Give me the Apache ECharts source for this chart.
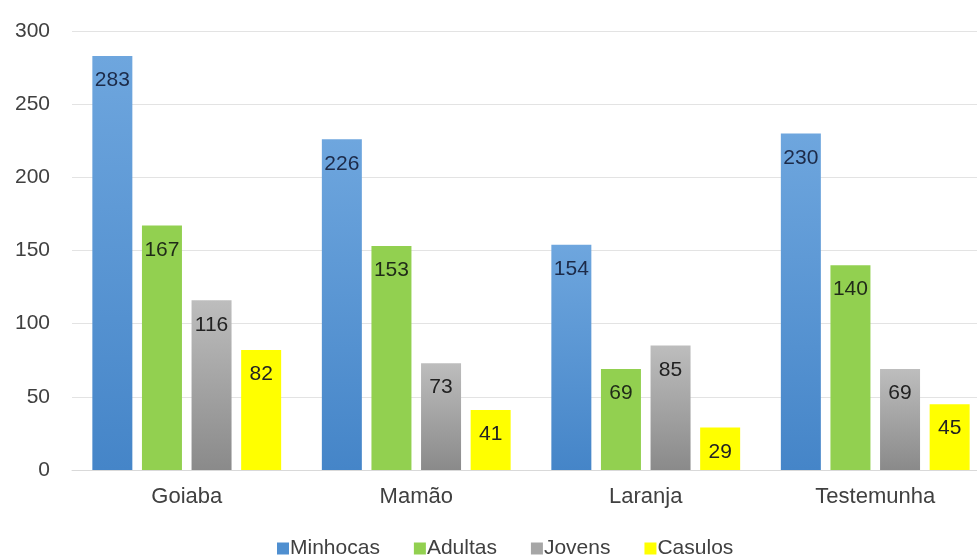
<!DOCTYPE html>
<html>
<head>
<meta charset="utf-8">
<script src="https://cdn.jsdelivr.net/npm/echarts@6/dist/echarts.min.js"></script>
<style>
  html, body { margin: 0; padding: 0; background: #fff; }
  #chart { width: 977px; height: 556px; }
</style>
</head>
<body>
<div id="chart"></div>
<script>
const categories = ['Goiaba', 'Mamão', 'Laranja', 'Testemunha'];
const seriesNames = ['Minhocas', 'Adultas', 'Jovens', 'Casulos'];
const minhocas = [283, 226, 154, 230];
const adultas = [167, 153, 69, 140];
const jovens = [116, 73, 85, 69];
const casulos = [82, 41, 29, 45];
const yTicks = [0, 50, 100, 150, 200, 250, 300];

const FONT = 'Liberation Sans, Arial, sans-serif';

const grad = (top, bottom) => new echarts.graphic.LinearGradient(0, 0, 0, 1, [
  { offset: 0, color: top }, { offset: 1, color: bottom }
]);

const styles = [
  { color: grad('#6ea6de', '#4585c8'), legend: '#4f8fd0', label: '#1c2a48' },
  { color: '#92d050', legend: '#92d050', label: '#1f2a18' },
  { color: grad('#bdbdbd', '#8a8a8a'), legend: '#a6a6a6', label: '#222222' },
  { color: '#ffff00', legend: '#ffff00', label: '#222222' }
];

const values = [minhocas, adultas, jovens, casulos];

const chart = echarts.init(document.getElementById('chart'));
chart.setOption({
  animation: false,
  grid: { left: 72, width: 918, top: 31, height: 439, outerBoundsMode: 'none', containLabel: false },
  legend: {
    top: 533,
    left: 272,
    itemWidth: 12,
    itemHeight: 12,
    itemGap: 34,
    icon: 'rect',
    textStyle: { fontFamily: FONT, fontSize: 21, color: '#404040', padding: [0, 0, 0, -4] },
    data: seriesNames.map((n, i) => ({ name: n, itemStyle: { color: styles[i].legend } }))
  },
  xAxis: {
    type: 'category',
    data: categories,
    axisLine: { lineStyle: { color: '#d9d9d9', width: 1 } },
    axisTick: { show: false },
    axisLabel: { fontFamily: FONT, fontSize: 22, color: '#404040', margin: 16 }
  },
  yAxis: {
    type: 'value',
    min: yTicks[0],
    max: yTicks[yTicks.length - 1],
    interval: 50,
    axisLine: { show: false },
    axisTick: { show: false },
    splitLine: { lineStyle: { color: '#e3e3e3', width: 1 } },
    axisLabel: { fontFamily: FONT, fontSize: 21, color: '#404040', margin: 22 }
  },
  series: seriesNames.map((name, i) => ({
    name: name,
    type: 'bar',
    data: values[i],
    barWidth: 40,
    barGap: '24%',
    barCategoryGap: '17%',
    itemStyle: { color: styles[i].color },
    label: {
      show: true,
      position: 'insideTop',
      distance: 14,
      fontFamily: FONT,
      fontSize: 21,
      color: styles[i].label
    }
  }))
});
</script>
</body>
</html>
